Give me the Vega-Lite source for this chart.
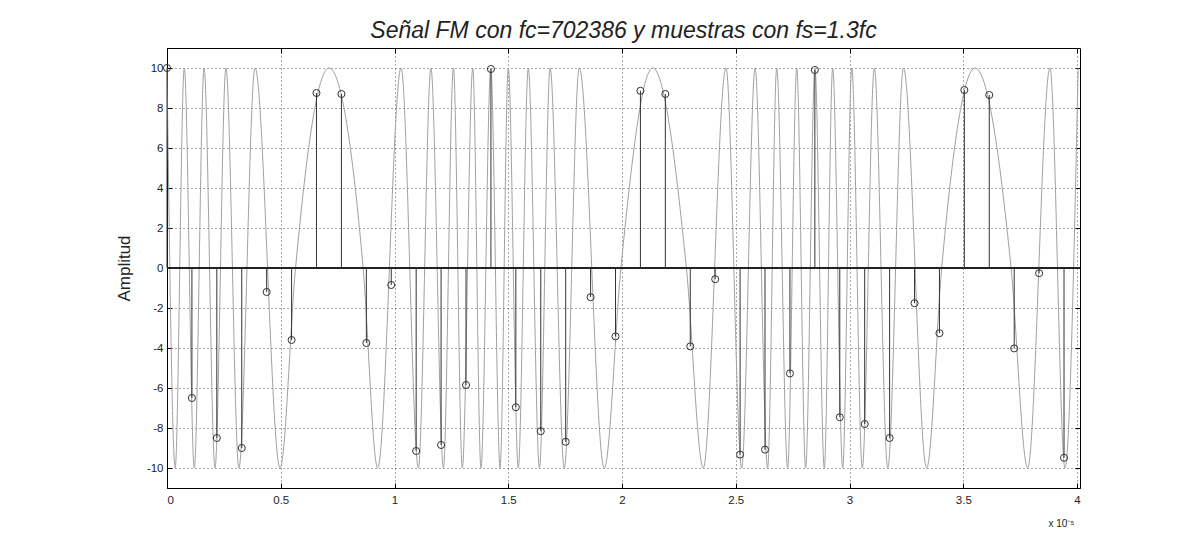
{
  "$schema": "https://vega.github.io/schema/vega-lite/v6.json",
  "width": 913,
  "height": 440,
  "autosize": "none",
  "padding": {"left": 167, "top": 48, "right": 101, "bottom": 56},
  "background": "white",
  "title": {
    "text": "Señal FM con fc=702386 y muestras con fs=1.3fc",
    "font": "Liberation Sans",
    "fontSize": 23,
    "fontStyle": "italic",
    "fontWeight": "normal",
    "color": "#222222",
    "anchor": "middle",
    "offset": 5
  },
  "config": {
    "view": {"stroke": "#000000", "strokeWidth": 1},
    "axis": {
      "labelFont": "Liberation Sans",
      "labelFontSize": 11.5,
      "labelColor": "#222222",
      "titleFont": "Liberation Sans",
      "titleFontWeight": "normal",
      "titleColor": "#222222",
      "domainColor": "#000000",
      "tickColor": "#000000",
      "tickSize": -5,
      "labelPadding": 9,
      "gridColor": "#555555",
      "gridDash": [1, 3],
      "gridOpacity": 1,
      "gridWidth": 1
    }
  },
  "datasets": {
    "signal": [
      {"t": 0, "v": 10},
      {"t": 0.036, "v": -10},
      {"t": 0.076, "v": 10},
      {"t": 0.12, "v": -10},
      {"t": 0.163, "v": 10},
      {"t": 0.211, "v": -10},
      {"t": 0.259, "v": 10},
      {"t": 0.316, "v": -10},
      {"t": 0.387, "v": 10},
      {"t": 0.497, "v": -10},
      {"t": 0.565, "v": 0},
      {"t": 0.712, "v": 10},
      {"t": 0.862, "v": 0},
      {"t": 0.926, "v": -10},
      {"t": 1.029, "v": 10},
      {"t": 1.105, "v": -10},
      {"t": 1.16, "v": 10},
      {"t": 1.215, "v": -10},
      {"t": 1.259, "v": 10},
      {"t": 1.298, "v": -10},
      {"t": 1.344, "v": 10},
      {"t": 1.38, "v": -10},
      {"t": 1.423, "v": 10},
      {"t": 1.464, "v": -10},
      {"t": 1.5, "v": 10},
      {"t": 1.544, "v": -10},
      {"t": 1.588, "v": 10},
      {"t": 1.637, "v": -10},
      {"t": 1.684, "v": 10},
      {"t": 1.746, "v": -10},
      {"t": 1.812, "v": 10},
      {"t": 1.922, "v": -10},
      {"t": 1.995, "v": 0},
      {"t": 2.135, "v": 10},
      {"t": 2.283, "v": 0},
      {"t": 2.357, "v": -10},
      {"t": 2.457, "v": 10},
      {"t": 2.526, "v": -10},
      {"t": 2.585, "v": 10},
      {"t": 2.64, "v": -10},
      {"t": 2.68, "v": 10},
      {"t": 2.728, "v": -10},
      {"t": 2.768, "v": 10},
      {"t": 2.807, "v": -10},
      {"t": 2.848, "v": 10},
      {"t": 2.889, "v": -10},
      {"t": 2.926, "v": 10},
      {"t": 2.97, "v": -10},
      {"t": 3.01, "v": 10},
      {"t": 3.056, "v": -10},
      {"t": 3.109, "v": 10},
      {"t": 3.168, "v": -10},
      {"t": 3.237, "v": 10},
      {"t": 3.339, "v": -10},
      {"t": 3.405, "v": 0},
      {"t": 3.552, "v": 10},
      {"t": 3.71, "v": 0},
      {"t": 3.783, "v": -10},
      {"t": 3.881, "v": 10},
      {"t": 3.947, "v": -10},
      {"t": 4.005, "v": 10}
    ],
    "samples": [
      {"t": 0, "v": 10},
      {"t": 0.1095, "v": -6.5},
      {"t": 0.219, "v": -8.5},
      {"t": 0.3286, "v": -9.0},
      {"t": 0.438, "v": -1.2},
      {"t": 0.5476, "v": -3.6},
      {"t": 0.657, "v": 8.75},
      {"t": 0.7667, "v": 8.7},
      {"t": 0.8762, "v": -3.75},
      {"t": 0.9857, "v": -0.85},
      {"t": 1.0952, "v": -9.15},
      {"t": 1.2047, "v": -8.85},
      {"t": 1.3143, "v": -5.85},
      {"t": 1.4238, "v": 9.95},
      {"t": 1.5333, "v": -6.96},
      {"t": 1.6428, "v": -8.16},
      {"t": 1.7524, "v": -8.69},
      {"t": 1.8619, "v": -1.46},
      {"t": 1.9714, "v": -3.42},
      {"t": 2.0809, "v": 8.86},
      {"t": 2.1904, "v": 8.7},
      {"t": 2.3, "v": -3.92},
      {"t": 2.4095, "v": -0.56},
      {"t": 2.519, "v": -9.33},
      {"t": 2.6285, "v": -9.08},
      {"t": 2.7381, "v": -5.27},
      {"t": 2.8476, "v": 9.9},
      {"t": 2.9571, "v": -7.46},
      {"t": 3.0666, "v": -7.8},
      {"t": 3.1762, "v": -8.5},
      {"t": 3.2857, "v": -1.76},
      {"t": 3.3952, "v": -3.26},
      {"t": 3.5047, "v": 8.9},
      {"t": 3.6142, "v": 8.65},
      {"t": 3.7238, "v": -4.02},
      {"t": 3.8333, "v": -0.26},
      {"t": 3.9428, "v": -9.49}
    ]
  },
  "layer": [
    {
      "layer": [
        {
          "data": {"name": "signal"},
          "mark": {"type": "line", "interpolate": "monotone", "color": "#a0a0a0", "strokeWidth": 1, "clip": true},
          "encoding": {
            "x": {
              "field": "t", "type": "quantitative",
              "scale": {"domain": [0, 4.013], "nice": false, "zero": false},
              "axis": {
                "orient": "bottom",
                "values": [0, 0.5, 1, 1.5, 2, 2.5, 3, 3.5, 4],
                "labelExpr": "'' + datum.value",
                "labelPadding": 11,
                "grid": true,
                "title": "x 10⁻⁵",
                "titleFontSize": 10,
                "titleAnchor": "end",
                "titleAlign": "right",
                "titleX": 907,
                "titleY": 30
              }
            },
            "y": {
              "field": "v", "type": "quantitative",
              "scale": {"domain": [-11, 11], "nice": false, "zero": false},
              "axis": {
                "orient": "left",
                "values": [-10, -8, -6, -4, -2, 0, 2, 4, 6, 8, 10],
                "labelExpr": "'' + datum.value",
                "grid": true,
                "title": "Amplitud",
                "titleFontSize": 17,
                "titlePadding": 13
              }
            }
          }
        },
        {
          "data": {"name": "samples"},
          "mark": {"type": "rule", "color": "#222222", "strokeWidth": 1},
          "encoding": {"y": {"datum": 0}}
        },
        {
          "data": {"name": "samples"},
          "mark": {"type": "rule", "color": "#333333", "strokeWidth": 1},
          "encoding": {
            "x": {"field": "t", "type": "quantitative"},
            "y": {"field": "v", "type": "quantitative"},
            "y2": {"datum": 0}
          }
        },
        {
          "data": {"name": "samples"},
          "mark": {"type": "point", "shape": "circle", "filled": false, "color": "#333333", "size": 50, "strokeWidth": 1, "opacity": 1},
          "encoding": {
            "x": {"field": "t", "type": "quantitative"},
            "y": {"field": "v", "type": "quantitative"}
          }
        }
      ]
    },
    {
      "data": {"name": "samples"},
      "mark": {"type": "point", "opacity": 0},
      "encoding": {
        "x": {
          "field": "t", "type": "quantitative",
          "scale": {"domain": [0, 4.013], "nice": false, "zero": false},
          "axis": {"orient": "top", "values": [0, 0.5, 1, 1.5, 2, 2.5, 3, 3.5, 4], "labels": false, "grid": false, "domain": false, "title": null}
        },
        "y": {
          "field": "v", "type": "quantitative",
          "scale": {"domain": [-11, 11], "nice": false, "zero": false},
          "axis": {"orient": "right", "values": [-10, -8, -6, -4, -2, 0, 2, 4, 6, 8, 10], "labels": false, "grid": false, "domain": false, "title": null}
        }
      }
    }
  ],
  "resolve": {"scale": {"x": "independent", "y": "independent"}}
}
